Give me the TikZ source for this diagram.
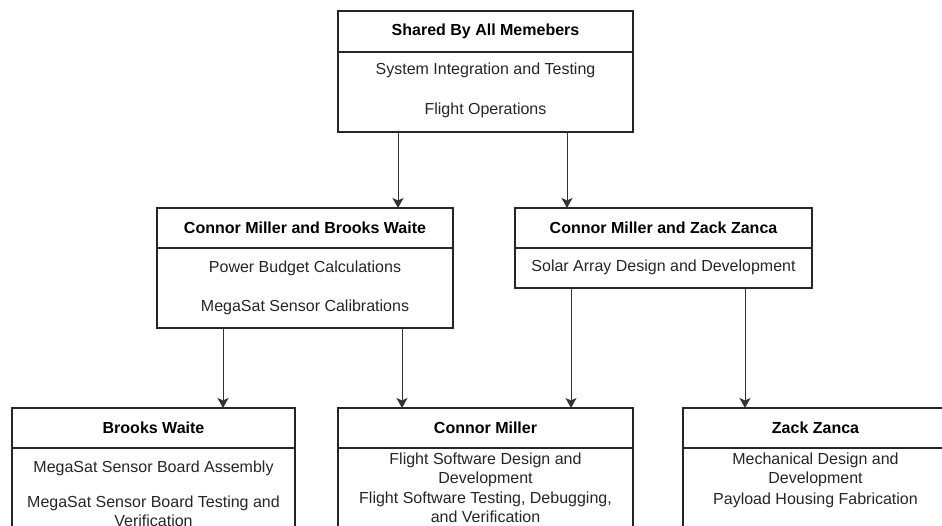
\documentclass[tikz,border=0pt]{standalone}
\usepackage{fontspec}
\setmainfont{Liberation Sans}
\usetikzlibrary{arrows.meta}
\begin{document}
\begin{tikzpicture}[x=1pt,y=-1pt,
  every node/.style={font=\fontsize{16}{19}\selectfont, inner sep=0pt, outer sep=0pt},
  hdr/.style={draw=black!85, line width=1.1pt, anchor=north west, font=\fontsize{16}{19}\selectfont\bfseries},
  body/.style={draw=black!85, line width=1.1pt, anchor=north west},
  item/.style={align=center, text=black!85},
  arr/.style={draw=black!80, line width=1pt, -{Stealth[length=10pt,width=11pt,inset=2.5pt]}}
]
\useasboundingbox (0,0) rectangle (942,525);
\fill[white] (0,0) rectangle (942,525);
\clip (0,0) rectangle (942,525);

% shared responsibilities
\node[hdr, minimum width=295, minimum height=41] (top-h) at (338,11) {Shared By All Memebers};
\node[body, minimum width=295, minimum height=80] (top-b) at (top-h.south west) {};
\node[item] (top-1) at (485.5,70) {System Integration and Testing};
\node[item] (top-2) at (485.5,110) {Flight Operations};

% paired responsibilities
\node[hdr, minimum width=296, minimum height=40] (ml-h) at (157,208) {Connor Miller and Brooks Waite};
\node[body, minimum width=296, minimum height=80] (ml-b) at (ml-h.south west) {};
\node[item] (ml-1) at (305,268) {Power Budget Calculations};
\node[item] (ml-2) at (305,307) {MegaSat Sensor Calibrations};

\node[hdr, minimum width=297, minimum height=40] (mr-h) at (515,208) {Connor Miller and Zack Zanca};
\node[body, minimum width=297, minimum height=40] (mr-b) at (mr-h.south west) {};
\node[item] (mr-1) at (663.5,267) {Solar Array Design and Development};

% individual responsibilities
\node[hdr, minimum width=283, minimum height=40] (bw-h) at (12,408) {Brooks Waite};
\node[body, minimum width=283, minimum height=110] (bw-b) at (bw-h.south west) {};
\node[item] (bw-1) at (153.5,468) {MegaSat Sensor Board Assembly};
\node[item] (bw-2) at (153.5,511.5) {MegaSat Sensor Board Testing and\\Verification};

\node[hdr, minimum width=295, minimum height=40] (cm-h) at (338,408) {Connor Miller};
\node[body, minimum width=295, minimum height=110] (cm-b) at (cm-h.south west) {};
\node[item] (cm-1) at (485.5,469.5) {Flight Software Design and\\Development};
\node[item] (cm-2) at (485.5,507.5) {Flight Software Testing, Debugging,\\and Verification};

\node[hdr, minimum width=265, minimum height=40] (zz-h) at (683,408) {Zack Zanca};
\node[body, minimum width=265, minimum height=110] (zz-b) at (zz-h.south west) {};
\node[item] (zz-1) at (815.5,469.5) {Mechanical Design and\\Development};
\node[item] (zz-2) at (815.5,500) {Payload Housing Fabrication};

% connectors
\draw[arr] (top-b.south -| 398,0) -- (ml-h.north -| 398,0);
\draw[arr] (top-b.south -| 567,0) -- (mr-h.north -| 567,0);
\draw[arr] (ml-b.south -| 223,0) -- (bw-h.north -| 223,0);
\draw[arr] (ml-b.south -| 402,0) -- (cm-h.north -| 402,0);
\draw[arr] (mr-b.south -| 571,0) -- (cm-h.north -| 571,0);
\draw[arr] (mr-b.south -| 745,0) -- (zz-h.north -| 745,0);
\end{tikzpicture}
\end{document}
